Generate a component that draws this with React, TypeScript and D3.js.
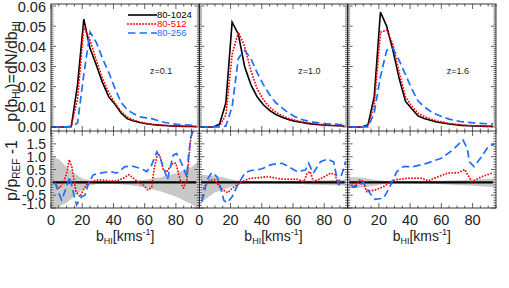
import React from 'react';
import * as d3 from 'd3';

// ---------- data ----------
const BINS = [1, 5, 9, 13, 17, 21, 25, 29, 33, 37, 41, 45, 49, 53, 57, 61, 65, 69, 73, 77, 81, 85, 89, 93];
const SERIES = ['80-1024', '80-512', '80-256'];
const REDSHIFTS = ['z=0.1', 'z=1.0', 'z=1.6'];

const P1024_Z01 = [0, 0, 0, 0.0003, 0.021, 0.0535, 0.039, 0.0307, 0.022, 0.0149, 0.0113, 0.0068, 0.004, 0.003, 0.0022, 0.0016, 0.0012, 0.0009, 0.0007, 0.0005, 0.0004, 0.0003, 0.0002, 0.0002];
const P512_Z01 = [0, 0, 0, 0.0001, 0.014, 0.05, 0.043, 0.033, 0.024, 0.017, 0.0118, 0.0076, 0.0048, 0.0034, 0.0025, 0.0018, 0.0013, 0.001, 0.0008, 0.0006, 0.0005, 0.0004, 0.0003, 0.0002];
const P256_Z01 = [0, 0, 0, 0, 0.002, 0.026, 0.047, 0.042, 0.034, 0.027, 0.019, 0.012, 0.0085, 0.0065, 0.005, 0.0045, 0.004, 0.003, 0.0022, 0.0017, 0.0013, 0.0011, 0.0009, 0.0007];

const P1024_Z10 = [0, 0, 0, 0.0015, 0.012, 0.052, 0.046, 0.03, 0.021, 0.015, 0.011, 0.0082, 0.0062, 0.0048, 0.0037, 0.0029, 0.0023, 0.0018, 0.0014, 0.0011, 0.0009, 0.0007, 0.0006, 0.0005];
const P512_Z10 = [0, 0, 0, 0.0005, 0.006, 0.036, 0.047, 0.04, 0.028, 0.019, 0.0135, 0.0098, 0.0073, 0.0056, 0.0043, 0.0034, 0.0027, 0.0021, 0.0017, 0.0013, 0.001, 0.0008, 0.0007, 0.0006];
const P256_Z10 = [0, 0, 0, 0, 0.0005, 0.01, 0.034, 0.038, 0.034, 0.027, 0.021, 0.016, 0.012, 0.0095, 0.007, 0.0052, 0.0038, 0.003, 0.0024, 0.002, 0.0017, 0.0015, 0.0013, 0.0012];

const P1024_Z16 = [0, 0, 0, 0.001, 0.015, 0.057, 0.05, 0.038, 0.024, 0.0128, 0.009, 0.0055, 0.0042, 0.0033, 0.0025, 0.002, 0.0015, 0.0011, 0.0008, 0.0006, 0.0005, 0.0004, 0.0003, 0.0003];
const P512_Z16 = [0, 0, 0, 0.0005, 0.011, 0.047, 0.048, 0.041, 0.027, 0.015, 0.0105, 0.0068, 0.0052, 0.004, 0.003, 0.0024, 0.0018, 0.0014, 0.001, 0.0008, 0.0006, 0.0005, 0.0004, 0.0004];
const P256_Z16 = [0, 0, 0, 0, 0.007, 0.025, 0.038, 0.039, 0.033, 0.026, 0.019, 0.013, 0.01, 0.0078, 0.0062, 0.005, 0.0039, 0.0031, 0.0026, 0.0023, 0.002, 0.0018, 0.0016, 0.0015];

// ratio panels: [b, p/p_ref - 1]
const R512_Z01: [number, number][] = [[2.5, -0.04], [5.3, -0.23], [8, 0.0], [10, 0.35], [11.7, 0.88], [13.3, 0.62], [14.7, 0.1], [16, -0.36], [18.6, -0.56], [20.7, -0.3], [24, 0.0], [27, 0.05], [31, 0.1], [35, 0.08], [38, 0.05], [42, 0.05], [46, 0.15], [50, 0.3], [53, 0.15], [56, 0.0], [59, -0.1], [62, -0.3], [64.5, -0.2], [66, 0.5], [67.8, 1.0], [69.5, 1.07], [72, 0.48], [74, 0.4], [78, 0.75], [80, 0.74], [82.7, 0.1], [84.8, -0.23], [87, 0.08], [88, 0.74], [89.6, 1.78], [91, 2.0]];
const R256_Z01: [number, number][] = [[2.6, 0.0], [4.5, -0.35], [6.8, -0.69], [10, -0.17], [11.8, 0.22], [13.2, -0.1], [14.7, -0.5], [16.4, -0.88], [19.6, -0.56], [21.8, -0.5], [24, -0.04], [27, 0.29], [31.4, 0.36], [38, 0.42], [42, 0.36], [47.4, 0.61], [51.7, 0.64], [57, 0.55], [61.3, 0.42], [64.5, 0.68], [67.8, 1.19], [70, 0.94], [72.5, 0.5], [74.5, 0.1], [76, 0.48], [78.3, 1.06], [80.4, 1.12], [82.7, 0.88], [84.5, 0.6], [87, 0.22], [88, 1.0], [89.6, 1.78], [91, 2.0]];
const R512_Z10: [number, number][] = [[2.8, -0.23], [5, -0.04], [7, 0.1], [10, 0.1], [13.5, -0.23], [16.7, -0.36], [18.5, -0.4], [21, -0.23], [24, -0.1], [27.4, 0.03], [32.7, 0.16], [38, 0.18], [43.4, 0.22], [48, 0.18], [52, 0.13], [57, 0.12], [62.6, 0.12], [67, 0.03], [69, 0.36], [71, 0.42], [73, 0.03], [76, 0.1], [79.7, 0.2], [84, 0.36], [87, 0.3], [89, -0.1], [92, 0.1]];
const R256_Z10: [number, number][] = [[1.7, -0.75], [5, 0.1], [8, 0.38], [11.3, 0.22], [13.5, -0.17], [15.6, -0.69], [17.8, -0.8], [21, -0.56], [25, -0.04], [29.5, 0.38], [33, 0.46], [37, 0.48], [41, 0.55], [45.5, 0.68], [49, 0.72], [53, 0.74], [57.3, 0.61], [62.6, 0.42], [68, 0.48], [70, 0.74], [73, 0.36], [77.6, 0.8], [82, 0.9], [86, 0.8], [88, 0.2], [89, -0.04], [91.5, 0.36], [93.6, 0.8]];
const R512_Z16: [number, number][] = [[3, -0.05], [4.7, -0.17], [8, 0.1], [10, 0.03], [12, -0.36], [17.5, -0.3], [22.9, -0.17], [26, -0.04], [30.2, 0.1], [38.8, 0.16], [47.3, 0.16], [51.6, 0.06], [58, 0.22], [64, 0.36], [71, 0.38], [75, 0.5], [79.5, 0.03], [86, 0.22], [93.4, 0.38]];
const R256_Z16: [number, number][] = [[2, -0.1], [3.6, -0.19], [7, -0.15], [10, 0.0], [14.3, -0.43], [17.5, -0.66], [23, -0.62], [27, -0.17], [31.5, 0.42], [35.7, 0.61], [42, 0.61], [50.6, 0.74], [60, 0.94], [67.3, 1.26], [73.8, 1.65], [76.6, 1.32], [78, 0.8], [81, 0.61], [85.8, 1.0], [90, 1.39], [94, 1.49]];

// scatter band of the reference
const BAND_X = [1, 5, 10, 15, 20, 25, 30, 40, 50, 60, 70, 80, 90, 94];
const BAND_UP_Z01 = [1.0, 0.9, 0.6, 0.35, 0.15, 0.07, 0.04, 0.04, 0.06, 0.1, 0.2, 0.35, 0.6, 0.8];
const BAND_LO_Z01 = [-1.0, -0.95, -0.8, -0.55, -0.3, -0.12, -0.06, -0.06, -0.1, -0.2, -0.35, -0.55, -0.85, -1.0];
const BAND_UP_Z10 = [0.3, 0.28, 0.25, 0.2, 0.12, 0.06, 0.04, 0.03, 0.04, 0.05, 0.07, 0.08, 0.1, 0.1];
const BAND_LO_Z10 = [-0.8, -0.6, -0.4, -0.3, -0.18, -0.08, -0.05, -0.04, -0.05, -0.06, -0.08, -0.1, -0.12, -0.12];
const BAND_UP_Z16 = [0.2, 0.2, 0.18, 0.12, 0.08, 0.05, 0.04, 0.04, 0.05, 0.06, 0.08, 0.1, 0.14, 0.15];
const BAND_LO_Z16 = [-0.25, -0.22, -0.2, -0.15, -0.1, -0.06, -0.04, -0.04, -0.05, -0.07, -0.1, -0.13, -0.17, -0.18];

const X_TICKS = [0, 20, 40, 60, 80];
const Y_TOP_TICKS = [0, 0.01, 0.02, 0.03, 0.04, 0.05, 0.06];
const Y_BOT_TICKS = [-1.0, -0.5, 0.0, 0.5, 1.0, 1.5];

const PANELS = [
  { z: REDSHIFTS[0], p: [P1024_Z01, P512_Z01, P256_Z01], r: [R512_Z01, R256_Z01], up: BAND_UP_Z01, lo: BAND_LO_Z01 },
  { z: REDSHIFTS[1], p: [P1024_Z10, P512_Z10, P256_Z10], r: [R512_Z10, R256_Z10], up: BAND_UP_Z10, lo: BAND_LO_Z10 },
  { z: REDSHIFTS[2], p: [P1024_Z16, P512_Z16, P256_Z16], r: [R512_Z16, R256_Z16], up: BAND_UP_Z16, lo: BAND_LO_Z16 },
];

// ---------- layout / style ----------
const W = 509, H = 288;
const LEFT = 51, PW = 148.33;
const TOP = 4, MID = 131, BOT = 208;
const FONT = '"Liberation Sans", Arial, Helvetica, sans-serif';
const COLORS = ['#000000', '#ff0000', '#1e6eff'];
const DASH = [null, '0.01 3', '7.5 4'];
const CAP = ['butt', 'round', 'butt'];
const WIDTH = [1.6, 1.9, 1.7];
const AX = '#222';

function Ticks({ x, y, xMajor, xMinor, yMajor, yMinor }: any) {
  const [x0, x1] = x.range();
  const [y0, y1] = y.range(); // y0 bottom, y1 top
  const M = 5, m = 2.5;
  const els: any[] = [];
  xMajor.forEach((v: number, i: number) => {
    const px = x(v);
    els.push(<line key={'xb' + i} x1={px} x2={px} y1={y0} y2={y0 - M} />);
    els.push(<line key={'xt' + i} x1={px} x2={px} y1={y1} y2={y1 + M} />);
  });
  xMinor.forEach((v: number, i: number) => {
    const px = x(v);
    els.push(<line key={'xbm' + i} x1={px} x2={px} y1={y0} y2={y0 - m} />);
    els.push(<line key={'xtm' + i} x1={px} x2={px} y1={y1} y2={y1 + m} />);
  });
  yMajor.forEach((v: number, i: number) => {
    const py = y(v);
    els.push(<line key={'yl' + i} x1={x0} x2={x0 + M} y1={py} y2={py} />);
    els.push(<line key={'yr' + i} x1={x1} x2={x1 - M} y1={py} y2={py} />);
  });
  yMinor.forEach((v: number, i: number) => {
    const py = y(v);
    els.push(<line key={'ylm' + i} x1={x0} x2={x0 + m} y1={py} y2={py} />);
    els.push(<line key={'yrm' + i} x1={x1} x2={x1 - m} y1={py} y2={py} />);
  });
  return <g stroke={AX} strokeWidth={0.7}>{els}</g>;
}

export default function App() {
  const yTop = d3.scaleLinear([-0.002, 0.061], [MID, TOP]);
  const yBot = d3.scaleLinear([-1, 2], [BOT, MID]);
  const xMinor = d3.range(0, 95.01, 5).filter((v) => v % 20 !== 0);
  const yTopMinor = d3.range(0, 0.0605, 0.001).filter((_, i) => i % 10 !== 0);
  const yBotMinor = d3.range(-1, 2.001, 0.1).map((v) => +v.toFixed(2)).filter((v) => Math.abs(v * 2 - Math.round(v * 2)) > 1e-6);

  return (
    <svg width={W} height={H} style={{ position: 'absolute', left: 0, top: 0, background: '#fff' }} fontFamily={FONT}>
      <defs>
        {PANELS.map((_, i) => (
          <clipPath id={'clip' + i} key={i}>
            <rect x={LEFT + i * PW} y={TOP} width={PW} height={BOT - TOP} />
          </clipPath>
        ))}
      </defs>
      {PANELS.map((pan, i) => {
        const x = d3.scaleLinear([0, 95], [LEFT + i * PW, LEFT + (i + 1) * PW]);
        const line = d3.line<number>().x((_, k) => x(BINS[k])).y((d) => yTop(d));
        const rline = d3.line<[number, number]>().x((d) => x(d[0])).y((d) => yBot(d[1]));
        const band = d3.area<number>().x((_, k) => x(BAND_X[k])).y0((_, k) => yBot(pan.lo[k])).y1((d) => yBot(d));
        const zero = d3.line<number>().x((d) => x(d)).y(() => yBot(0));
        return (
          <g key={i}>
            <g clipPath={`url(#clip${i})`}>
              <path d={band(pan.up) || ''} fill="#c8c8c8" stroke="none" />
              {pan.p.map((s, k) => (
                <path key={k} d={line(s) || ''} fill="none" stroke={COLORS[k]} strokeWidth={WIDTH[k]}
                  strokeDasharray={DASH[k] || undefined} strokeLinecap={CAP[k] as any} />
              ))}
              <path d={zero([BINS[0], BINS[BINS.length - 1]]) || ''} stroke="#000" strokeWidth={2.2} fill="none" />
              {pan.r.map((s, k) => (
                <path key={k} d={rline(s) || ''} fill="none" stroke={COLORS[k + 1]} strokeWidth={WIDTH[k + 1]}
                  strokeDasharray={DASH[k + 1] || undefined} strokeLinecap={CAP[k + 1] as any} />
              ))}
            </g>
            <Ticks x={x} y={yTop} xMajor={X_TICKS} xMinor={xMinor} yMajor={Y_TOP_TICKS} yMinor={yTopMinor} />
            <Ticks x={x} y={yBot} xMajor={X_TICKS} xMinor={xMinor} yMajor={Y_BOT_TICKS} yMinor={yBotMinor} />
            <rect x={x.range()[0]} y={TOP} width={PW} height={BOT - TOP} fill="none" stroke={AX} strokeWidth={0.9} />
            <line x1={x.range()[0]} x2={x.range()[1]} y1={MID} y2={MID} stroke={AX} strokeWidth={0.9} />
            {X_TICKS.map((t) => (
              <text key={t} x={x(t)} y={225} fontSize={14.5} textAnchor="middle" fill="#222">{t}</text>
            ))}
            <text x={x.range()[0] + 99} y={74} fontSize={9} fontFamily={FONT} fill="#222">{pan.z}</text>
            <text x={(x.range()[0] + x.range()[1]) / 2} y={241} fontSize={14} textAnchor="middle" fill="#222">
              b<tspan fontSize={9} dy={3}>HI</tspan><tspan dy={-3}>[kms</tspan><tspan fontSize={9} dy={-6}>-1</tspan><tspan dy={6}>]</tspan>
            </text>
          </g>
        );
      })}
      {/* y tick labels */}
      {Y_TOP_TICKS.map((t) => (
        <text key={'yt' + t} x={46} y={yTop(t)} dy="0.38em" fontSize={14.5} textAnchor="end" fill="#222">{d3.format('.2f')(t)}</text>
      ))}
      {Y_BOT_TICKS.map((t) => (
        <text key={'yb' + t} x={46} y={yBot(t)} dy={t === -1 ? '0.05em' : '0.36em'} fontSize={14} textAnchor="end" fill="#222">{d3.format('.1f')(t).replace('−', '-')}</text>
      ))}
      {/* axis titles */}
      <text transform={`translate(17,${(TOP + MID) / 2 + 4}) rotate(-90)`} fontSize={16} textAnchor="middle" fill="#222">
        p(b<tspan fontSize={10} dy={3}>HI</tspan><tspan dy={-3}>)=dN/db</tspan><tspan fontSize={10} dy={3}>HI</tspan>
      </text>
      <text transform={`translate(17,${(MID + BOT) / 2 + 1}) rotate(-90)`} fontSize={16} textAnchor="middle" fill="#222">
        p/p<tspan fontSize={10} dy={3}>REF</tspan><tspan dy={-3}> -1</tspan>
      </text>
      {/* legend */}
      {SERIES.map((s, k) => {
        const ly = 15 + k * 9;
        return (
          <g key={s}>
            <line x1={128} x2={157} y1={ly} y2={ly} stroke={COLORS[k]} strokeWidth={WIDTH[k]}
              strokeDasharray={DASH[k] || undefined} strokeLinecap={CAP[k] as any} />
            <text x={157} y={ly + 3.2} fontSize={9.5} fill={COLORS[k]}>{s}</text>
          </g>
        );
      })}
    </svg>
  );
}
